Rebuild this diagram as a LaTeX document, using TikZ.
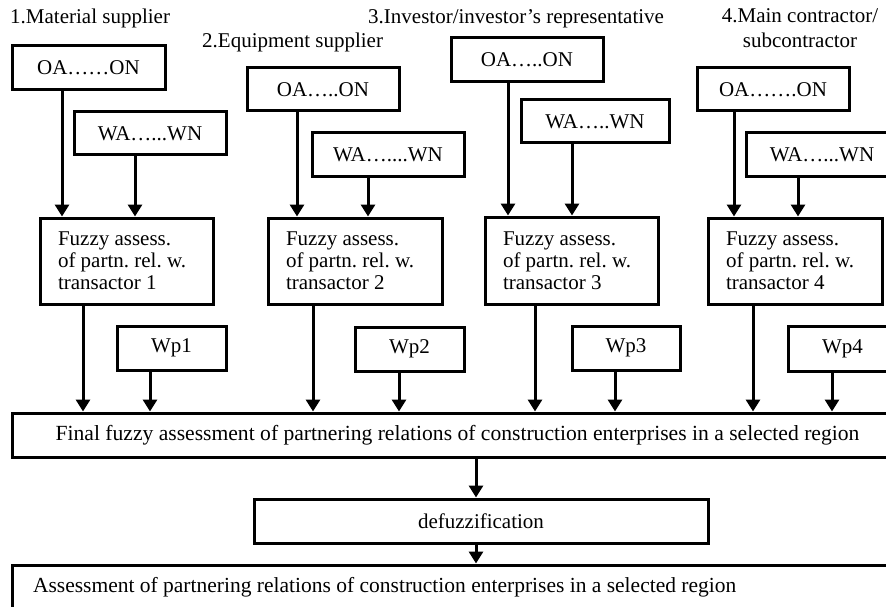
\documentclass[tikz,border=0pt]{standalone}
\usepackage{fontspec}
\setmainfont{Liberation Serif}
\usetikzlibrary{arrows.meta}
\frenchspacing
\begin{document}
\begin{tikzpicture}[x=1pt,y=-1pt,
  box/.style={draw,line width=3pt,inner sep=0pt,font=\fontsize{21}{22}\selectfont},
  fzbox/.style={box,align=flush left,text width=#1,inner xsep=18pt},
  lbl/.style={inner sep=0pt,font=\fontsize{21}{25}\selectfont},
  arr/.style={line width=3pt,-{Triangle[length=12pt,width=14pt]}}]
\clip (0,0) rectangle (886,607);
\fill[white] (0,0) rectangle (886,607);
% labels
\node[lbl,anchor=base west] (l1) at (10,24) {1.Material supplier};
\node[lbl,anchor=base west] (l2) at (202,48) {2.Equipment supplier};
\node[lbl,anchor=base west] (l3) at (368,24) {3.Investor/investor's representative};
\node[lbl,anchor=north,align=center] (l4) at (800,8) {4.Main contractor/\\subcontractor};
% group 1
\node[box,minimum width=153pt,minimum height=44pt] (oa1) at (88.5,68) {OA……ON};
\node[box,minimum width=152pt,minimum height=43pt] (wa1) at (150,133.5) {WA…...WN};
\node[fzbox=137pt,minimum height=86pt] (fz1) at (126.5,261) {Fuzzy assess.\\of partn. rel. w.\\transactor 1};
\node[box,minimum width=109pt,minimum height=44pt] (wp1) at (171.5,348) {Wp1};
% group 2
\node[box,minimum width=152pt,minimum height=43pt] (oa2) at (323,89.5) {OA…..ON};
\node[box,minimum width=152pt,minimum height=43pt] (wa2) at (388,154.5) {WA…....WN};
\node[fzbox=138pt,minimum height=86pt] (fz2) at (355,261) {Fuzzy assess.\\of partn. rel. w.\\transactor 2};
\node[box,minimum width=109pt,minimum height=44pt] (wp2) at (409.5,349) {Wp2};
% group 3
\node[box,minimum width=152pt,minimum height=44pt] (oa3) at (527,60) {OA…..ON};
\node[box,minimum width=148pt,minimum height=43pt] (wa3) at (595,121.5) {WA…..WN};
\node[fzbox=137pt,minimum height=87pt] (fz3) at (571.5,260.5) {Fuzzy assess.\\of partn. rel. w.\\transactor 3};
\node[box,minimum width=108pt,minimum height=44pt] (wp3) at (626,348) {Wp3};
% group 4
\node[box,minimum width=152pt,minimum height=43pt] (oa4) at (773,89.5) {OA…….ON};
\node[box,minimum width=152pt,minimum height=43pt] (wa4) at (822,154.5) {WA…...WN};
\node[fzbox=138pt,minimum height=86pt] (fz4) at (795,261) {Fuzzy assess.\\of partn. rel. w.\\transactor 4};
\node[box,minimum width=109pt,minimum height=45pt] (wp4) at (842.5,349) {Wp4};
% bottom
\node[box,minimum width=891pt,minimum height=44pt,font=\fontsize{21.6}{22}\selectfont] (fin) at (457.5,435) {Final fuzzy assessment of partnering relations of construction enterprises in a selected region};
\node[box,minimum width=454pt,minimum height=44pt] (def) at (481,521) {defuzzification};
\node[box,minimum height=44pt,align=flush left,text width=849pt,inner xsep=21pt,font=\fontsize{21.5}{22}\selectfont] (res) at (457.5,587) {Assessment of partnering relations of construction enterprises in a selected region};
% x positions
\foreach \n/\x in {a1/62,b1/135,c1/83,d1/150,a2/297,b2/368,c2/313,d2/399,a3/508,b3/572,c3/535,d3/615,a4/734,b4/798,c4/753,d4/832,e/476}
  \coordinate (x\n) at (\x,0);
\foreach \i in {1,2,3,4}{
  \draw[arr] (xa\i |- oa\i.south) -- (xa\i |- fz\i.north);
  \draw[arr] (xb\i |- wa\i.south) -- (xb\i |- fz\i.north);
  \draw[arr] (xc\i |- fz\i.south) -- (xc\i |- fin.north);
  \draw[arr] (xd\i |- wp\i.south) -- (xd\i |- fin.north);
}
\draw[arr] (xe |- fin.south) -- (xe |- def.north);
\draw[arr] (xe |- def.south) -- (xe |- res.north);
\end{tikzpicture}
\end{document}
